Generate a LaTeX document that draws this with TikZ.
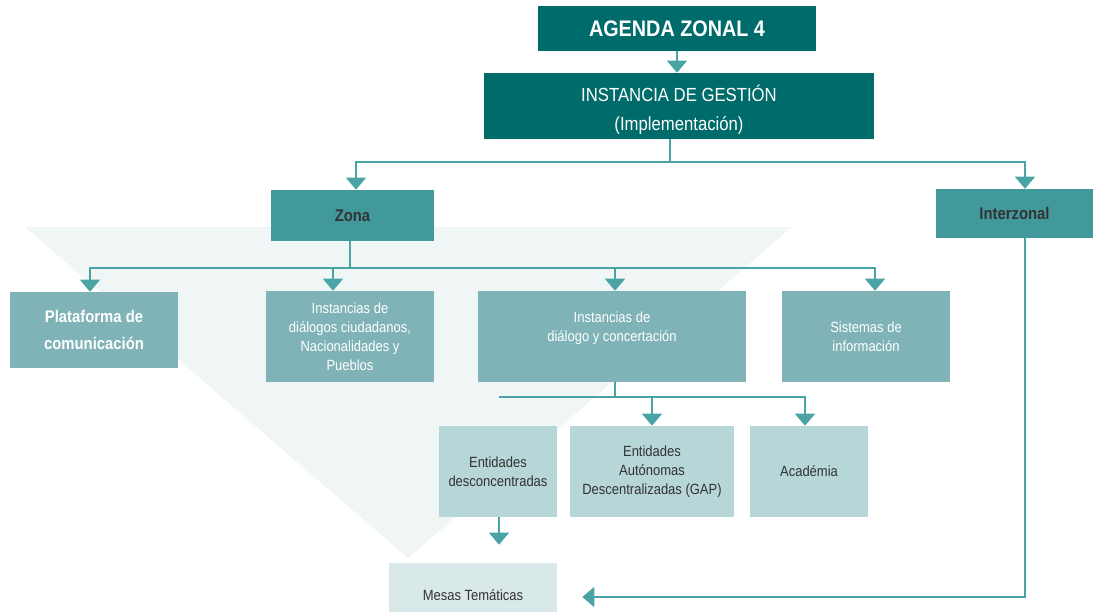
\documentclass[tikz,border=0pt]{standalone}
\usepackage{fontspec}
\setmainfont{Liberation Sans}[FakeStretch=0.88]
\usetikzlibrary{arrows.meta,positioning,calc}
\definecolor{zdark}{HTML}{006B6B}
\definecolor{zmid}{HTML}{41999C}
\definecolor{zsoft}{HTML}{7FB3B7}
\definecolor{zpale}{HTML}{B6D6D7}
\definecolor{zmist}{HTML}{D9E8E8}
\definecolor{zback}{HTML}{F0F6F6}
\definecolor{zline}{HTML}{4AA3A5}
\definecolor{ztext}{HTML}{333333}
\tikzset{topbox/.style={fill=zdark,text=white,align=center,inner sep=0pt},zonebox/.style={fill=zmid,text=ztext,align=center,inner sep=0pt,font=\bfseries\fontsize{12}{14}\selectfont},softbox/.style={fill=zsoft,text=white,align=center,inner sep=0pt,font=\fontsize{10.5}{13.5}\selectfont,minimum width=4.2cm,minimum height=2.275cm},palebox/.style={fill=zpale,text=ztext,align=center,inner sep=0pt,font=\fontsize{10.5}{13.5}\selectfont,minimum height=2.275cm},zlink/.style={draw=zline,line width=1pt},zarr/.style={zlink,-{Triangle[width=0.5cm,length=0.3cm]}}}
\begin{document}
\begin{tikzpicture}[x=0.025cm,y=-0.025cm]
\useasboundingbox (0,0) rectangle (1094,612);
\fill[zback] (25,227) -- (792,227) -- (408,558) -- cycle;
\node[topbox,font=\bfseries\fontsize{16}{18}\selectfont,minimum width=6.95cm,minimum height=1.125cm] (agenda) at (677,28.5) {AGENDA ZONAL 4};
\node[topbox,font=\fontsize{13.5}{20}\selectfont,minimum width=9.75cm,minimum height=1.65cm] (gestion) at (679,106) {\rule{0pt}{17pt}INSTANCIA DE GESTIÓN\\(Implementación)};
\node[zonebox,minimum width=4.075cm,minimum height=1.275cm] (zona) at (352.5,215.5) {Zona};
\node[zonebox,minimum width=3.925cm,minimum height=1.225cm] (interzonal) at (1014.5,213.5) {Interzonal};
\node[softbox,font=\bfseries\fontsize{12}{19}\selectfont,minimum height=1.9cm] (plataforma) at (94,330) {Plataforma de\\comunicación};
\node[softbox] (dialogos) at (350,336.5) {Instancias de\\diálogos ciudadanos,\\Nacionalidades y\\Pueblos};
\node[softbox,minimum width=6.7cm] (concertacion) at (612,336.5) {Instancias de\\diálogo y concertación\\\mbox{}};
\node[softbox] (sistemas) at (866,336.5) {Sistemas de\\información};
\node[palebox,minimum width=2.95cm] (desconcentradas) at (498,471.5) {Entidades\\desconcentradas};
\node[palebox,minimum width=4.1cm] (autonomas) at (652,471.5) {Entidades\\Autónomas\\Descentralizadas (GAP)};
\node[palebox,minimum width=2.95cm] (academia) at (809,471.5) {Académia};
\node[fill=zmist,text=ztext,inner sep=0pt,font=\fontsize{10.5}{13.5}\selectfont,minimum width=4.2cm,minimum height=1.6cm] (mesas) at (473,595) {Mesas Temáticas};
\coordinate (gbus) at (670,162);
\coordinate (zbus) at (350,268);
\coordinate (cbus) at (615,397);
\coordinate (cend) at (499,397);
\draw[zarr] (agenda.south) -- (agenda.south |- gestion.north);
\draw[zlink] (gestion.south -| gbus) -- (gbus);
\draw[zarr] (gbus) -| ([xshift=0.0875cm]zona.north);
\draw[zarr] (gbus) -| ([xshift=0.2625cm]interzonal.north);
\draw[zlink] (zona.south -| zbus) -- (zbus);
\draw[zarr] (zbus) -| ([xshift=-0.1cm]plataforma.north);
\draw[zarr] (zbus) -| ([xshift=-0.425cm]dialogos.north);
\draw[zarr] (zbus) -| ([xshift=0.075cm]concertacion.north);
\draw[zarr] (zbus) -| ([xshift=0.225cm]sistemas.north);
\draw[zlink] (concertacion.south -| cbus) -- (cbus) -- (cend);
\draw[zarr] (cbus) -| (autonomas.north);
\draw[zarr] (cbus) -| ([xshift=-0.1cm]academia.north);
\draw[zarr,shorten >=0.45cm] (desconcentradas.south -| cend) -- (mesas.north -| cend);
\draw[zarr,shorten >=0.625cm] ([xshift=0.2625cm]interzonal.south) |- ([yshift=-0.05cm]mesas.east);
\end{tikzpicture}
\end{document}
